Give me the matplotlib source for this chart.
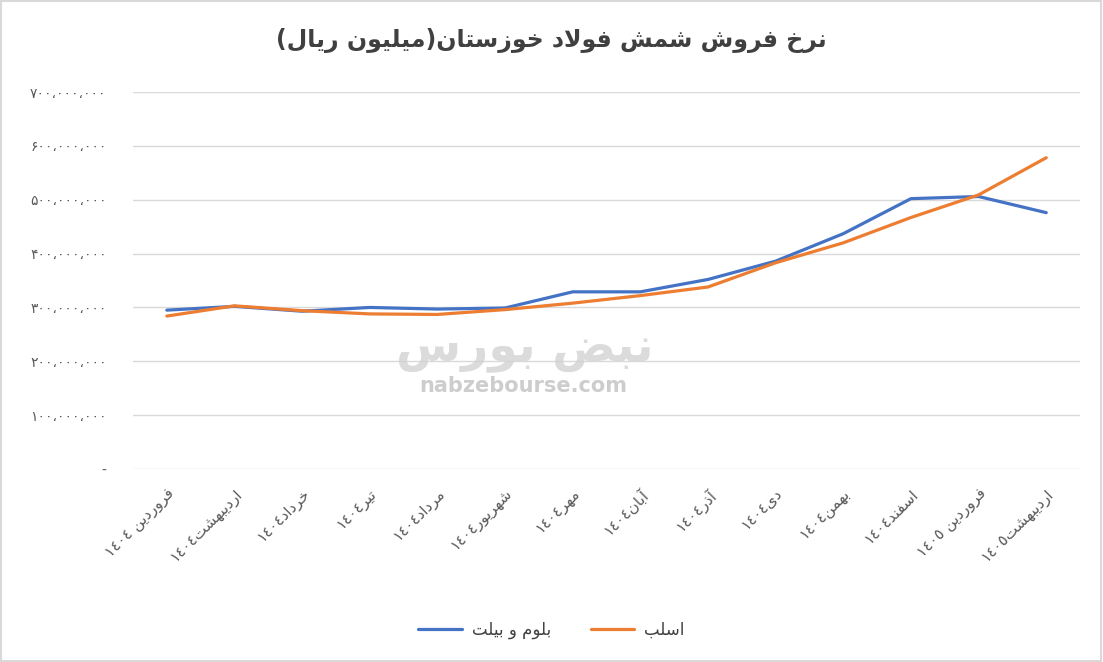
import matplotlib.pyplot as plt
from matplotlib.patches import Rectangle

## Data (values in rial)
months = ['فروردین ١٤٠٤', 'اردیبهشت١٤٠٤', 'خرداد١٤٠٤', 'تیر١٤٠٤', 'مرداد١٤٠٤',
          'شهریور١٤٠٤', 'مهر١٤٠٤', 'آبان١٤٠٤', 'آذر١٤٠٤', 'دی١٤٠٤', 'بهمن١٤٠٤',
          'اسفند١٤٠٤', 'فروردین ١٤٠٥', 'اردیبهشت١٤٠٥']
bloom_billet = [295e6, 302e6, 293e6, 300e6, 297e6, 299e6, 329e6, 329e6,
                352e6, 386e6, 437e6, 502e6, 506e6, 476e6]
slab = [284e6, 303e6, 294e6, 288e6, 287e6, 296e6, 308e6, 322e6,
        338e6, 383e6, 420e6, 467e6, 509e6, 578e6]
yticks = [0, 100e6, 200e6, 300e6, 400e6, 500e6, 600e6, 700e6]
ytick_labels = ['-', '۱۰۰،۰۰۰،۰۰۰', '۲۰۰،۰۰۰،۰۰۰', '۳۰۰،۰۰۰،۰۰۰', '۴۰۰،۰۰۰،۰۰۰',
                '۵۰۰،۰۰۰،۰۰۰', '۶۰۰،۰۰۰،۰۰۰', '۷۰۰،۰۰۰،۰۰۰']
title = 'نرخ فروش شمش فولاد خوزستان(میلیون ریال)'
series_names = ['بلوم و بیلت', 'اسلب']

## minimal arabic shaping + bidi (no reshaper libs available)
# letter: (isolated, final, initial, medial); 2-form letters only join to the right
FORMS = {
    'ا': (0xFE8D, 0xFE8E), 'آ': (0xFE81, 0xFE82), 'د': (0xFEA9, 0xFEAA),
    'ذ': (0xFEAB, 0xFEAC), 'ر': (0xFEAD, 0xFEAE), 'ز': (0xFEAF, 0xFEB0),
    'و': (0xFEED, 0xFEEE),
    'ب': (0xFE8F, 0xFE90, 0xFE91, 0xFE92), 'ت': (0xFE95, 0xFE96, 0xFE97, 0xFE98),
    'خ': (0xFEA5, 0xFEA6, 0xFEA7, 0xFEA8), 'س': (0xFEB1, 0xFEB2, 0xFEB3, 0xFEB4),
    'ش': (0xFEB5, 0xFEB6, 0xFEB7, 0xFEB8), 'ف': (0xFED1, 0xFED2, 0xFED3, 0xFED4),
    'ل': (0xFEDD, 0xFEDE, 0xFEDF, 0xFEE0), 'م': (0xFEE1, 0xFEE2, 0xFEE3, 0xFEE4),
    'ن': (0xFEE5, 0xFEE6, 0xFEE7, 0xFEE8), 'ه': (0xFEE9, 0xFEEA, 0xFEEB, 0xFEEC),
    'ی': (0xFBFC, 0xFBFD, 0xFBFE, 0xFBFF), 'ض': (0xFEBD, 0xFEBE, 0xFEBF, 0xFEC0),
}


def shape(s):
    out = []
    i = 0
    while i < len(s):
        c = s[i]
        if c not in FORMS:
            out.append(c)
            i += 1
            continue
        prev = s[i - 1] if i > 0 else ''
        joins_prev = prev in FORMS and len(FORMS[prev]) == 4
        if c == 'ل' and i + 1 < len(s) and s[i + 1] in 'اآ':
            lig = (0xFEFB, 0xFEFC) if s[i + 1] == 'ا' else (0xFEF5, 0xFEF6)
            out.append(chr(lig[1] if joins_prev else lig[0]))
            i += 2
            continue
        nxt = s[i + 1] if i + 1 < len(s) else ''
        f = FORMS[c]
        joins_next = len(f) == 4 and nxt in FORMS
        if joins_prev and joins_next:
            out.append(chr(f[3]))
        elif joins_prev:
            out.append(chr(f[1]))
        elif joins_next:
            out.append(chr(f[2]))
        else:
            out.append(chr(f[0]))
        i += 1
    return ''.join(out)


def fa(s):
    shaped = shape(s)
    # split into digit runs (stay LTR) and the rest (reversed)
    runs = []
    for ch in shaped:
        isdig = ch.isdigit()
        if runs and runs[-1][0] == isdig:
            runs[-1][1].append(ch)
        else:
            runs.append([isdig, [ch]])
    mirror = {'(': ')', ')': '('}
    parts = []
    for isdig, chars in reversed(runs):
        if isdig:
            parts.append(''.join(chars))
        else:
            parts.append(''.join(mirror.get(c, c) for c in reversed(chars)))
    return ''.join(parts)


plt.rcParams['font.family'] = ['DejaVu Sans']

fig = plt.figure(figsize=(11.03, 6.62), dpi=100)
ax = fig.add_axes([0.1206, 0.2915, 0.8586, 0.5695])

x = list(range(len(months)))
ax.plot(x, bloom_billet, color='#4472C4', lw=2.3, label=fa(series_names[0]),
        solid_capstyle='round', zorder=3)
ax.plot(x, slab, color='#ED7D31', lw=2.3, label=fa(series_names[1]),
        solid_capstyle='round', zorder=3)

ax.set_xlim(-0.5, len(months) - 0.5)
ax.set_ylim(0, 700e6)
ax.set_yticks(yticks)
ax.set_yticklabels(ytick_labels, fontsize=10, color='#595959')
ax.set_xticks(x)
ax.set_xticklabels([fa(m) for m in months], rotation=45, ha='right',
                   rotation_mode='anchor', fontsize=11, color='#595959')
ax.tick_params(axis='y', length=0, pad=19)
ax.tick_params(axis='x', length=0, pad=12)
ax.grid(axis='y', color='#d9d9d9', lw=1)
ax.set_axisbelow(True)
for sp in ax.spines.values():
    sp.set_visible(False)

## watermark
ax.text(0.414, 0.315, fa('نبض بورس'), transform=ax.transAxes, fontsize=34,
        fontweight='bold', color='#d0d0d0', alpha=0.75, ha='center', va='center',
        zorder=4)
ax.text(0.412, 0.22, 'nabzebourse.com', transform=ax.transAxes, fontsize=15,
        fontweight='bold', color='#c8c8c8', alpha=0.9, ha='center', va='center',
        zorder=4)

fig.suptitle(fa(title), y=0.958, fontsize=17, fontweight='bold', color='#404040')

fig.legend(loc='center', bbox_to_anchor=(0.5, 0.048), ncol=2, frameon=False,
           fontsize=12, handlelength=2.6, columnspacing=2.4, handletextpad=0.6,
           labelcolor='#404040')

fig.patches.append(Rectangle((0.001, 0.001), 0.997, 0.997, transform=fig.transFigure,
                             fill=False, edgecolor='#d9d9d9', lw=1.5))

fig.savefig('out.png', dpi=100)
